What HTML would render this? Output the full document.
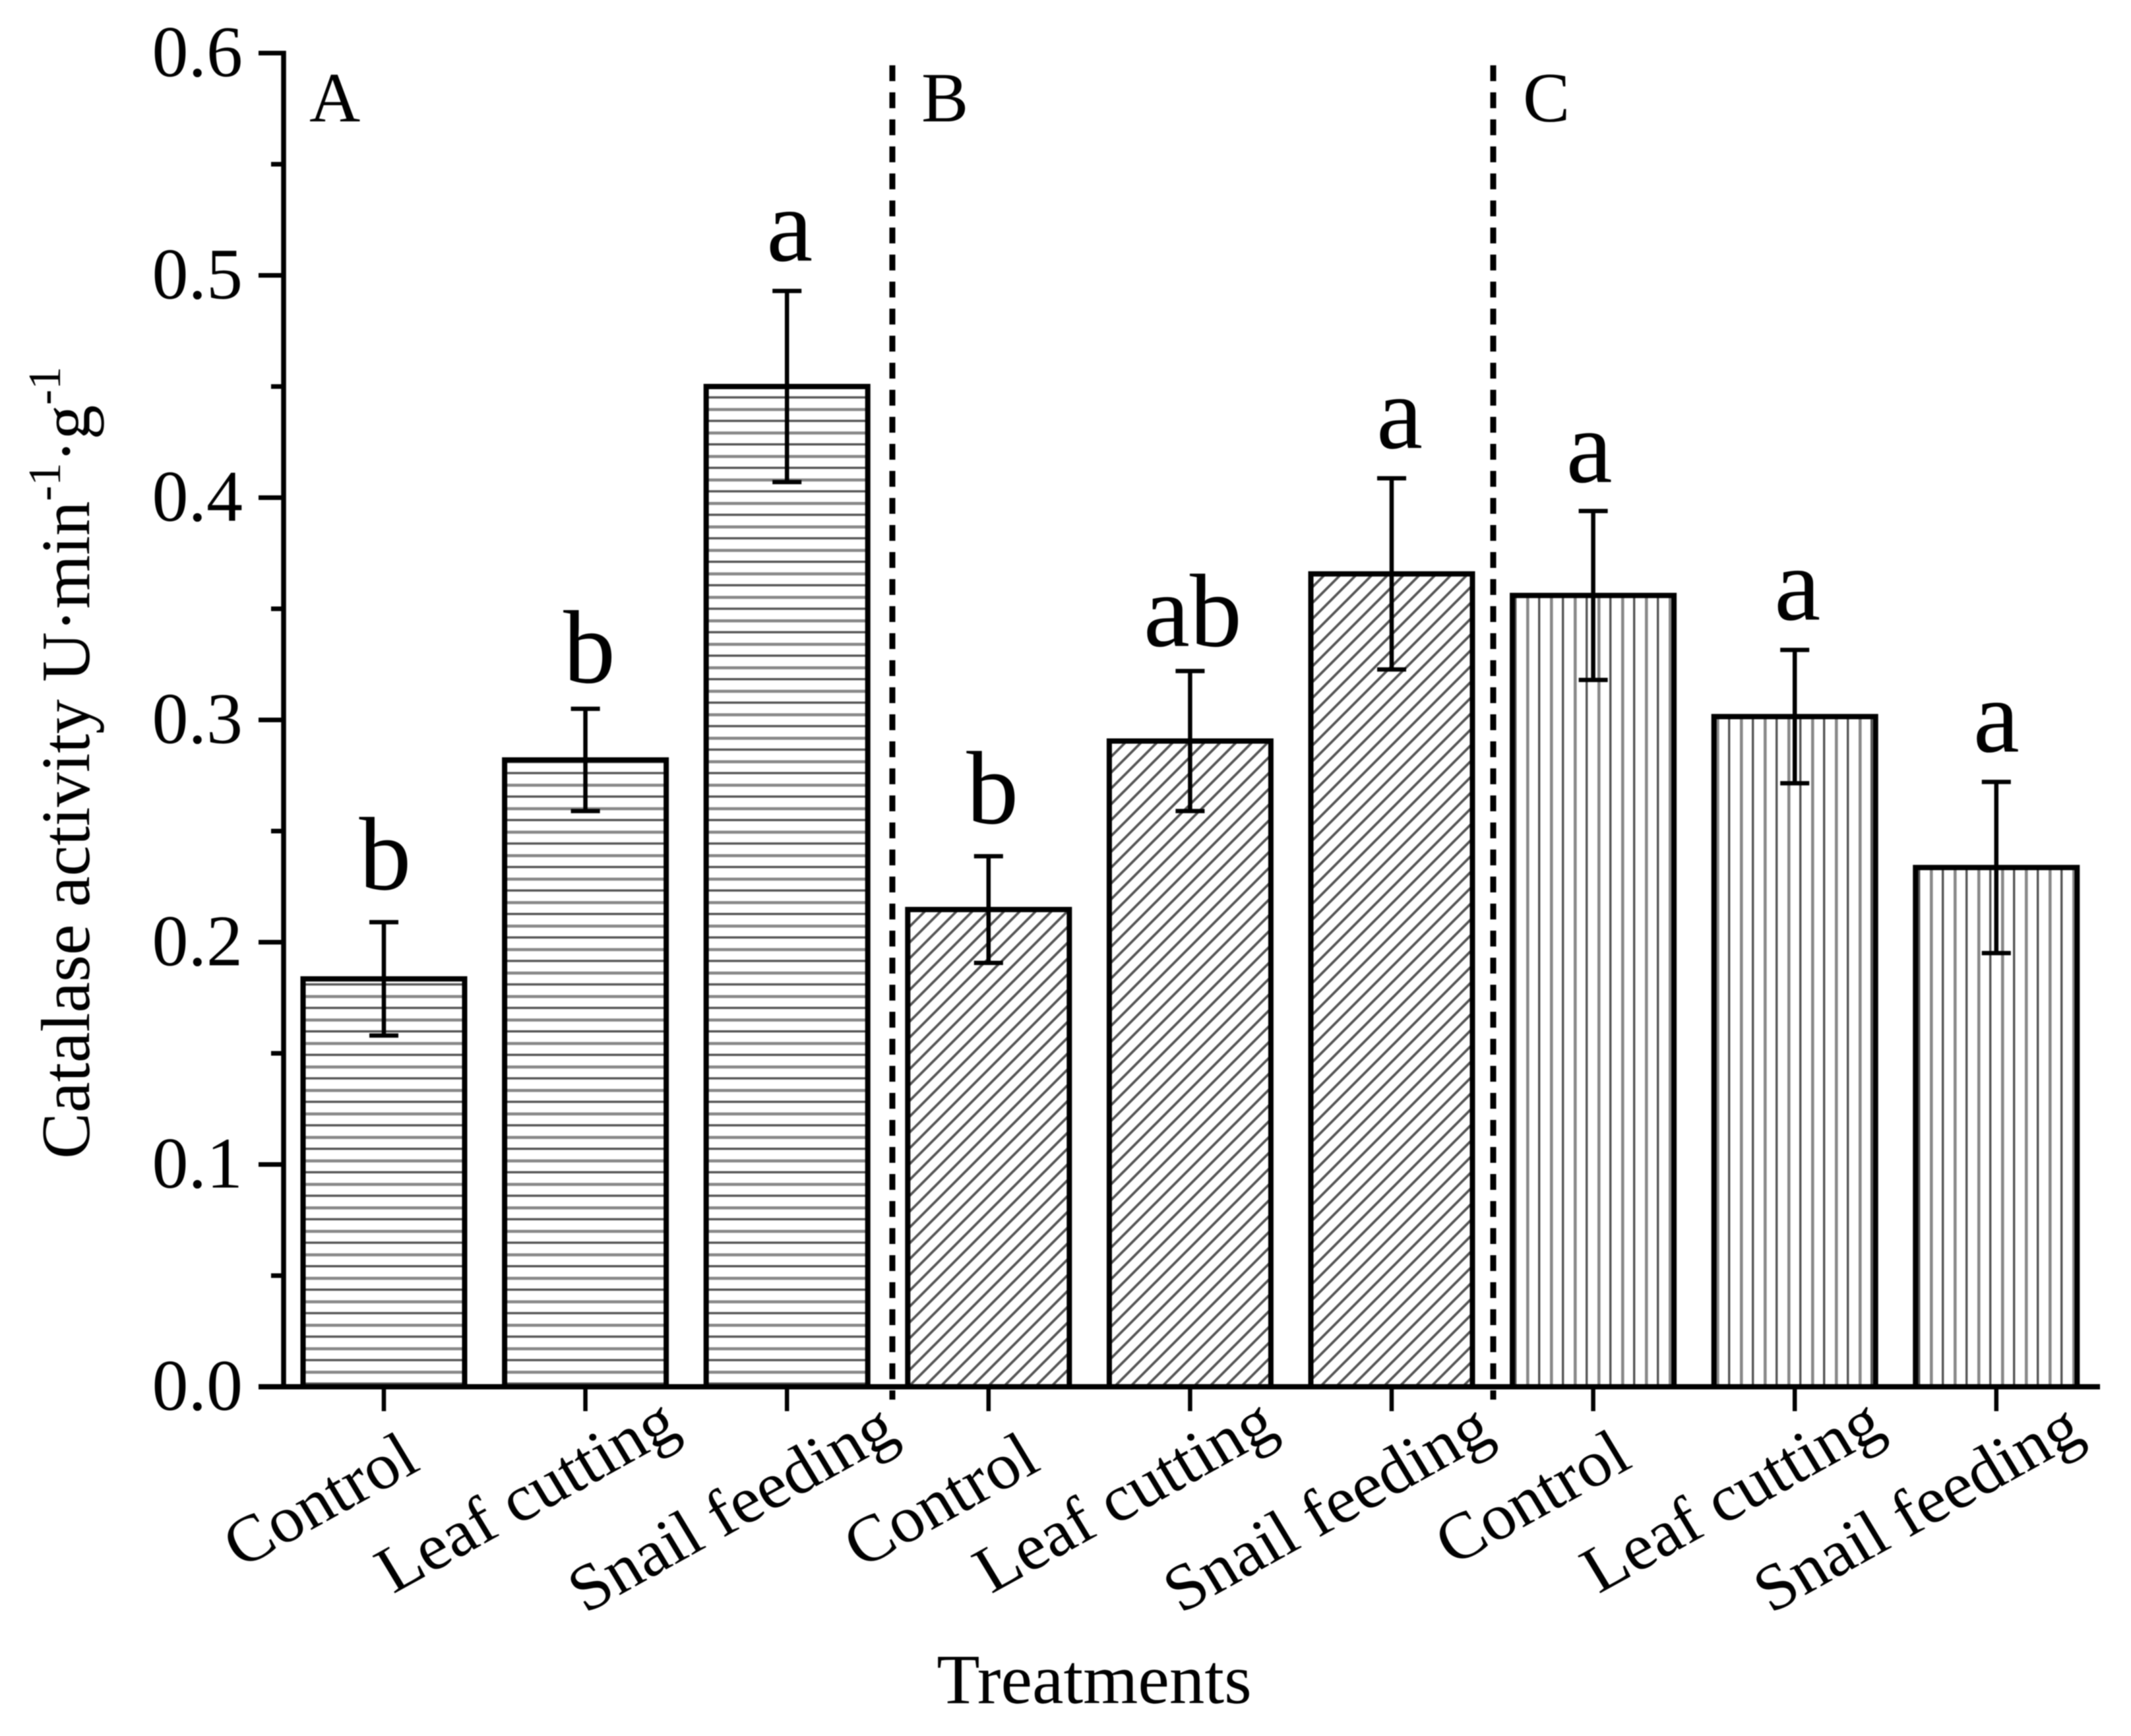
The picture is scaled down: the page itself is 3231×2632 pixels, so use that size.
<!DOCTYPE html>
<html lang="en">
<head>
<meta charset="utf-8">
<title>Catalase activity by treatment</title>
<style>
html,body{margin:0;padding:0;background:#fff;}
svg{display:block;filter:blur(0.7px);}
text{font-family:"Liberation Serif",serif;fill:#000;}
</style>
</head>
<body>
<svg id="chart" xmlns="http://www.w3.org/2000/svg" width="3231" height="2632" viewBox="0 0 3231 2632">
  <defs>
    <pattern id="hatch-h" patternUnits="userSpaceOnUse" x="0" y="2096" width="36" height="35.6">
      <rect x="0" y="0" width="36" height="3.4" fill="#555"/>
      <rect x="0" y="17.8" width="36" height="4.6" fill="#888"/>
    </pattern>
    <pattern id="hatch-d" patternUnits="userSpaceOnUse" x="0" y="0" width="24" height="24">
      <path d="M-6 6L6 -6M0 24L24 0M18 30L30 18" stroke="#555" stroke-width="3.8" fill="none"/>
    </pattern>
    <pattern id="hatch-v" patternUnits="userSpaceOnUse" x="2296" y="0" width="36" height="36">
      <rect x="0" y="0" width="3.4" height="36" fill="#555"/>
      <rect x="18" y="0" width="4.6" height="36" fill="#888"/>
    </pattern>
  </defs>
  <g id="bars-layer"></g>
  <g id="errors-layer"></g>
  <g id="axes-layer"></g>
  <g id="letters-layer"></g>
  <line x1="1353" y1="99" x2="1353" y2="2122" stroke="#000" stroke-width="9" stroke-dasharray="24 17"/>
  <line x1="2264" y1="99" x2="2264" y2="2122" stroke="#000" stroke-width="9" stroke-dasharray="24 17"/>
  <text x="469" y="184" font-size="107">A</text>
  <text x="1397" y="184" font-size="107">B</text>
  <text x="2309" y="184" font-size="107">C</text>
  <text transform="translate(135 1757) rotate(-90)" font-size="105">Catalase activity U·min<tspan dy="-44" font-size="70">-1</tspan><tspan dy="44">·g</tspan><tspan dy="-44" font-size="70">-1</tspan></text>
  <text x="1659" y="2582" font-size="107" text-anchor="middle">Treatments</text>
</svg>
<script>
const categories = ['Control','Leaf cutting','Snail feeding','Control','Leaf cutting','Snail feeding','Control','Leaf cutting','Snail feeding'];
const panels = ['A','A','A','B','B','B','C','C','C'];
const activity = [0.1835,0.282,0.450,0.2147,0.2905,0.3657,0.356,0.3015,0.2336];
const errors = [0.0255,0.023,0.043,0.024,0.0315,0.043,0.038,0.030,0.0385];
const letters = ['b','b','a','b','ab','a','a','a','a'];
const yTickValues = [0,0.1,0.2,0.3,0.4,0.5,0.6];
const yTickLabels = ['0.0','0.1','0.2','0.3','0.4','0.5','0.6'];
const yMinorValues = [0.05,0.15,0.25,0.35,0.45,0.55];

const NS = 'http://www.w3.org/2000/svg';
const Y0 = 2102.5, Y_UNIT = 3370;
const X0 = 582, X_STEP = 305.6, BAR_W = 245;
const yScale = v => Y0 - v * Y_UNIT;
const xScale = i => X0 + i * X_STEP;
const hatch = {A:'url(#hatch-h)', B:'url(#hatch-d)', C:'url(#hatch-v)'};
const labelShift = {'Control':[52,124], 'Leaf cutting':[150,84], 'Snail feeding':[152,84]};
const labelNudgeX = [6,-4,20,30,-14,6,10,-10,-16];
const labelNudgeY = [0,-12,-4,0,-12,-4,-4,-12,-4];
const letterNudgeX = [0,4,2,4,2,10,-8,2,-2];
const letterNudgeY = [-4,6,0,-4,8,0,2,0,0];

function make(tag, attrs, parent){
  const el = document.createElementNS(NS, tag);
  for (const k in attrs) el.setAttribute(k, attrs[k]);
  parent.appendChild(el);
  return el;
}
const barsLayer = document.getElementById('bars-layer');
const errorsLayer = document.getElementById('errors-layer');
const axesLayer = document.getElementById('axes-layer');
const lettersLayer = document.getElementById('letters-layer');

activity.forEach((v, i) => {
  const cx = xScale(i), top = yScale(v);
  const bar = make('rect', {x:cx-BAR_W/2, y:top, width:BAR_W, height:Y0-top, fill:hatch[panels[i]], stroke:'#000', 'stroke-width':8}, barsLayer);
  
  

  const hi = yScale(v + errors[i]), lo = yScale(v - errors[i]);
  const err = make('path', {d:`M${cx} ${hi}V${lo}M${cx-22} ${hi}H${cx+22}M${cx-22} ${lo}H${cx+22}`, stroke:'#000', 'stroke-width':6.5, fill:'none'}, errorsLayer);
  
  

  const letter = make('text', {x:cx+2+letterNudgeX[i], y:hi-46+letterNudgeY[i], 'font-size':158, 'text-anchor':'middle'}, lettersLayer);
  letter.textContent = letters[i];
  
  

  const tick = make('line', {x1:cx, y1:Y0, x2:cx, y2:Y0+37, stroke:'#000', 'stroke-width':6.5}, axesLayer);
  
  

  const s = labelShift[categories[i]];
  const lx = cx + s[0] + labelNudgeX[i], ly = Y0 + s[1] + labelNudgeY[i];
  const label = make('text', {transform:`translate(${lx} ${ly}) scale(1 0.96) rotate(-30)`, 'font-size':104, 'text-anchor':'end'}, axesLayer);
  label.textContent = categories[i];
  
  
});

yTickValues.forEach((v, i) => {
  const y = yScale(v);
  const tick = make('line', {x1:392, y1:y, x2:430, y2:y, stroke:'#000', 'stroke-width':7}, axesLayer);
  
  
  const label = make('text', {x:368, y:y+35, 'font-size':110, 'text-anchor':'end'}, axesLayer);
  label.textContent = yTickLabels[i];
  
  
});
yMinorValues.forEach((v, i) => {
  const y = yScale(v);
  const tick = make('line', {x1:411, y1:y, x2:430, y2:y, stroke:'#000', 'stroke-width':7}, axesLayer);
  
  
});

const yAxis = make('line', {x1:430, y1:yScale(0.6)-3.5, x2:430, y2:Y0+3.5, stroke:'#000', 'stroke-width':7.5}, axesLayer);


const xAxis = make('line', {x1:392, y1:Y0, x2:3184, y2:Y0, stroke:'#000', 'stroke-width':8}, axesLayer);


</script>
</body>
</html>
